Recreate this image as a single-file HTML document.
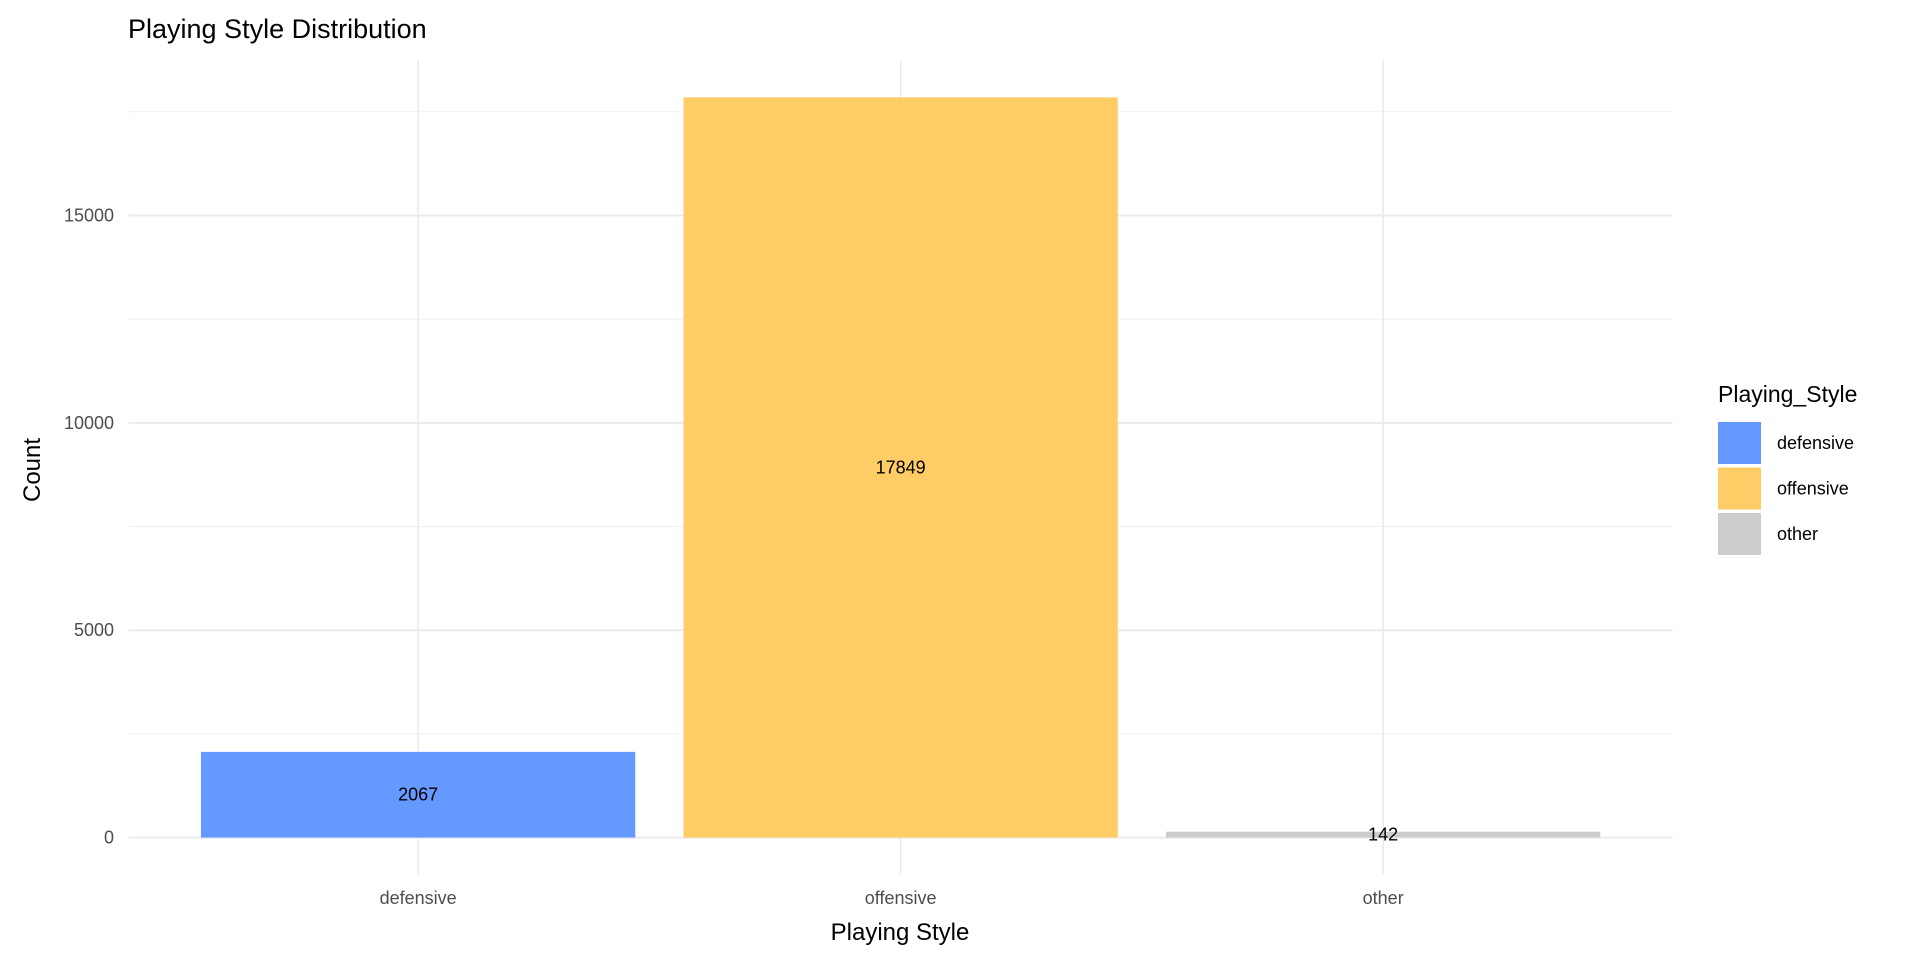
<!DOCTYPE html>
<html><head><meta charset="utf-8"><style>
body{margin:0;background:#fff;}
svg{display:block;font-family:"Liberation Sans",Arial,sans-serif;}
</style></head><body>
<svg id="chart" width="1920" height="960" viewBox="0 0 1920 960" xmlns="http://www.w3.org/2000/svg">
<rect width="1920" height="960" fill="#fff"/>
<text x="128" y="38" font-size="27" fill="#000">Playing Style Distribution</text>
<g id="grid"></g><g id="bars"></g><g id="labels"></g><g id="axes"></g>
<text x="900" y="940" font-size="24" text-anchor="middle" fill="#000">Playing Style</text>
<text transform="translate(40,470) rotate(-90)" font-size="24" text-anchor="middle" fill="#000">Count</text>
<g id="legend"></g>
</svg>
<script>
const categories = ["defensive","offensive","other"];
const counts = [2067,17849,142];
const colors = ["#6699FF","#FFCC66","#CCCCCC"];
const yTicks = [0,5000,10000,15000];
const yMinor = [2500,7500,12500,17500];

const NS="http://www.w3.org/2000/svg";
const px0=128.6, px1=1672.7;
const maxV=Math.max(...counts), ext=maxV*0.05;
const y0=837.6, k=0.041473;
const y=v=>y0-v*k;
const topY=y(maxV+ext), botY=y(-ext);
const band=(px1-px0)/(categories.length+0.2);
const x=i=>px0+band*(i+0.6);
const bw=band*0.9;
function mk(tag,attrs,parent){const e=document.createElementNS(NS,tag);for(const a in attrs)e.setAttribute(a,attrs[a]);document.getElementById(parent).appendChild(e);return e;}
yMinor.forEach(v=>{const l=mk('line',{x1:px0,x2:px1,y1:y(v),y2:y(v),stroke:'#f0f0f0','stroke-width':1.2},'grid');

});
yTicks.forEach(v=>{const l=mk('line',{x1:px0,x2:px1,y1:y(v),y2:y(v),stroke:'#ebebeb','stroke-width':2},'grid');


const t=mk('text',{x:114,y:y(v)+6,'font-size':18,'text-anchor':'end',fill:'#4d4d4d'},'axes');t.textContent=v;

});
categories.forEach((c,i)=>{
const l=mk('line',{x1:x(i),x2:x(i),y1:topY,y2:botY,stroke:'#ebebeb','stroke-width':1.6},'grid');


const r=mk('rect',{x:x(i)-bw/2,y:y(counts[i]),width:bw,height:y(0)-y(counts[i]),fill:colors[i]},'bars');


const t=mk('text',{x:x(i),y:y(counts[i]/2)+6,'font-size':18,'text-anchor':'middle',fill:'#000'},'labels');t.textContent=counts[i];


const tx=mk('text',{x:x(i),y:904,'font-size':18,'text-anchor':'middle',fill:'#4d4d4d'},'axes');tx.textContent=c;


const lk=mk('rect',{x:1718,y:422+i*45.5,width:43,height:42,fill:colors[i]},'legend');


const lt=mk('text',{x:1777,y:449+i*45.5,'font-size':18,fill:'#000'},'legend');lt.textContent=c;


});
const lg=mk('text',{x:1718,y:402,'font-size':23,fill:'#000'},'legend');lg.textContent='Playing_Style';


</script>
</body></html>
